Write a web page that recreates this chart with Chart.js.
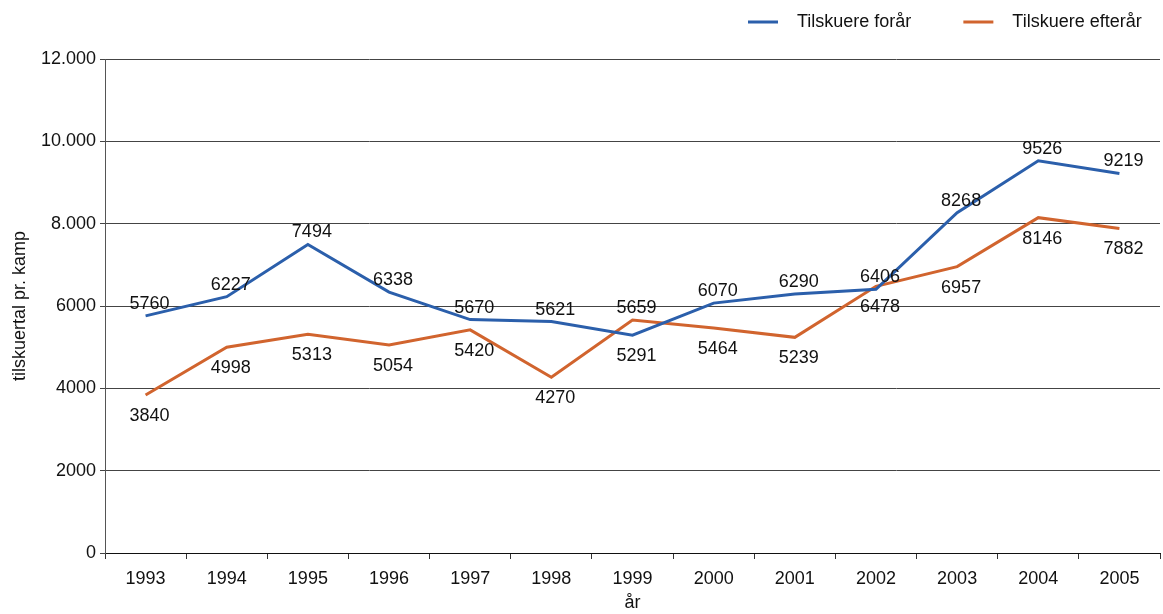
<!DOCTYPE html>
<html>
<head>
<meta charset="utf-8">
<script src="https://cdn.jsdelivr.net/npm/chart.js@4/dist/chart.umd.min.js"></script>
<style>
  html, body { margin: 0; padding: 0; background: #fff; }
  #wrap { width: 1163px; height: 614px; position: relative; }
</style>
</head>
<body>
<div id="wrap"><canvas id="attendanceChart"></canvas></div>
<script>
const years = ['1993', '1994', '1995', '1996', '1997', '1998', '1999', '2000', '2001', '2002', '2003', '2004', '2005'];
const springValues = [5760, 6227, 7494, 6338, 5670, 5621, 5291, 6070, 6290, 6406, 8268, 9526, 9219];
const autumnValues = [3840, 4998, 5313, 5054, 5420, 4270, 5659, 5464, 5239, 6478, 6957, 8146, 7882];
const yTickLabels = ['0', '2000', '4000', '6000', '8.000', '10.000', '12.000'];

const FONT = '"Liberation Sans", Arial, Helvetica, sans-serif';

// value labels next to each point ('up' = above the line, 'down' = below)
const pointLabels = {
  id: 'pointLabels',
  afterDatasetsDraw(chart) {
    const ctx = chart.ctx;
    ctx.save();
    ctx.font = '18px ' + FONT;
    ctx.fillStyle = '#111';
    ctx.textAlign = 'center';
    ctx.textBaseline = 'middle';
    chart.data.datasets.forEach((ds, i) => {
      chart.getDatasetMeta(i).data.forEach((pt, j) => {
        const side = ds.labelSide(j);
        const dy = side === 'up' ? -12 : 21;
        ctx.fillText(String(ds.data[j]), pt.x + 4, pt.y + dy);
      });
    });
    ctx.restore();
  }
};

// legend drawn by hand to get the wide gap between swatch and text
const lineLegend = {
  id: 'lineLegend',
  afterDraw(chart) {
    const ctx = chart.ctx;
    ctx.save();
    ctx.font = '18px ' + FONT;
    ctx.textBaseline = 'middle';
    let x = 748;
    const y = 22;
    chart.data.datasets.forEach(ds => {
      ctx.fillStyle = ds.borderColor;
      ctx.fillRect(x, y - 1.5, 30, 3);
      ctx.fillStyle = '#111';
      ctx.fillText(ds.label, x + 49, y);
      x += 49 + ctx.measureText(ds.label).width + 52;
    });
    ctx.restore();
  }
};

new Chart(document.getElementById('attendanceChart'), {
  type: 'line',
  data: {
    labels: years,
    datasets: [
      {
        label: 'Tilskuere forår',
        data: springValues,
        borderColor: '#2b5fab',
        backgroundColor: '#2b5fab',
        borderWidth: 3,
        pointRadius: 0,
        tension: 0,
        labelSide: (j) => (springValues[j] < autumnValues[j] - 200 ? 'down' : 'up')
      },
      {
        label: 'Tilskuere efterår',
        data: autumnValues,
        borderColor: '#d1642e',
        backgroundColor: '#d1642e',
        borderWidth: 3,
        pointRadius: 0,
        tension: 0,
        labelSide: (j) => (autumnValues[j] > springValues[j] + 200 ? 'up' : 'down')
      }
    ]
  },
  options: {
    responsive: true,
    maintainAspectRatio: false,
    animation: false,
    layout: {
      padding: { top: 59, right: 3, left: 0, bottom: 0 }
    },
    plugins: {
      legend: { display: false },
      tooltip: { enabled: false }
    },
    scales: {
      x: {
        offset: true,
        grid: {
          offset: true,
          drawOnChartArea: false,
          drawTicks: true,
          tickLength: 6,
          color: '#333'
        },
        border: { color: '#111', width: 1 },
        ticks: {
          color: '#111',
          font: { family: FONT, size: 18 },
          padding: 9,
          maxRotation: 0,
          autoSkip: false
        },
        title: {
          display: true,
          text: 'år',
          color: '#111',
          font: { family: FONT, size: 18 },
          padding: { top: 0, bottom: 0 }
        },
        afterFit(scale) { scale.height = 61; }
      },
      y: {
        min: 0,
        max: 12000,
        grid: {
          color: '#444',
          lineWidth: 1,
          tickLength: 5
        },
        border: { color: '#555', width: 1 },
        ticks: {
          stepSize: 2000,
          color: '#111',
          padding: 4,
          font: { family: FONT, size: 18 },
          callback: (v, i) => yTickLabels[i]
        },
        title: {
          display: true,
          text: 'tilskuertal pr. kamp',
          color: '#111',
          font: { family: FONT, size: 18 },
          padding: { top: 9, bottom: 0 }
        },
        afterFit(scale) { scale.width = 105; }
      }
    }
  },
  plugins: [pointLabels, lineLegend]
});
</script>
</body>
</html>
